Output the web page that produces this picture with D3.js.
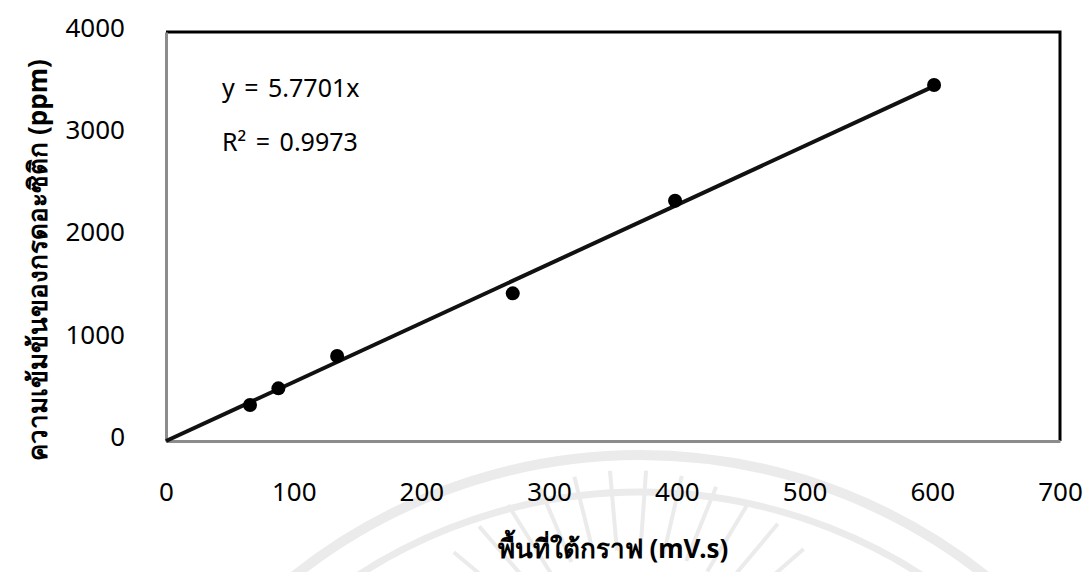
<!DOCTYPE html>
<html>
<head>
<meta charset="utf-8">
<script src="https://cdn.jsdelivr.net/npm/d3@7"></script>
<style>
  body { margin: 0; background: #fff; }
  text { font-family: "Noto Sans", "DejaVu Sans", sans-serif; fill: #000; }
</style>
</head>
<body>
<div id="chart"></div>
<script>
// data
var areas = [65.8, 88, 134, 271.5, 398.6, 601.4];
var concs = [352, 515, 831, 1444, 2350, 3482];
var slope = 5.7701;
var eqLabels = ["y = 5.7701x", "R² = 0.9973"];
var xTicks = [0, 100, 200, 300, 400, 500, 600, 700];
var yTicks = [0, 1000, 2000, 3000, 4000];
var xTitle = "พื้นที่ใต้กราฟ (mV.s)";
var yTitle = "ความเข้มข้นของกรดอะซิติก (ppm)";

var svgWidth = 1087;
var svgHeight = 572;
var margin = { top: 32, right: 27, bottom: 131, left: 166 };
var width = svgWidth - margin.left - margin.right;
var height = svgHeight - margin.top - margin.bottom;

var svg = d3.select("#chart")
  .append("svg")
  .attr("width", svgWidth)
  .attr("height", svgHeight);

// faint watermark (logo arcs and rays)
var wm = svg.append("g").attr("fill", "none").attr("stroke", "#ebebeb");
wm.append("circle").attr("cx", 640).attr("cy", 1010).attr("r", 555).attr("stroke-width", 10);
wm.append("circle").attr("cx", 640).attr("cy", 1010).attr("r", 518).attr("stroke-width", 7);
d3.range(-50, 51, 9).forEach(function(a) {
  var t = (a - 90) * Math.PI / 180;
  wm.append("line")
    .attr("x1", 630 + 150 * Math.cos(t)).attr("y1", 700 + 150 * Math.sin(t))
    .attr("x2", 630 + 230 * Math.cos(t)).attr("y2", 700 + 230 * Math.sin(t))
    .attr("stroke-width", 4);
});

var chartGroup = svg.append("g")
  .attr("transform", `translate(${margin.left}, ${margin.top})`);

var xScale = d3.scaleLinear().domain([0, 700]).range([0, width]);
var yScale = d3.scaleLinear().domain([0, 4000]).range([height, 0]);

// plot frame: top and right black
chartGroup.append("path")
  .attr("d", `M0,0 H${width} V${height}`)
  .attr("fill", "none")
  .attr("stroke", "#000")
  .attr("stroke-width", 3);

// axes (grey lines, no ticks)
var bottomAxis = d3.axisBottom(xScale).tickValues(xTicks).tickSize(0).tickPadding(42).tickFormat(d3.format("d"));
var leftAxis = d3.axisLeft(yScale).tickValues(yTicks).tickSize(0).tickPadding(41).tickFormat(d3.format("d"));

var xAxisG = chartGroup.append("g")
  .attr("transform", `translate(0, ${height})`)
  .call(bottomAxis);
var yAxisG = chartGroup.append("g").call(leftAxis);

[xAxisG, yAxisG].forEach(function(g) {
  g.select(".domain").attr("stroke", "#8c8c8c").attr("stroke-width", 3);
  g.selectAll("text")
    .style("font-size", "26px")
    .style("font-family", "'Noto Sans', 'DejaVu Sans', sans-serif")
    .attr("fill", "#222");
});
yAxisG.selectAll("text").attr("dy", "0.17em");

// trendline
var lineData = [0, d3.max(areas)];
chartGroup.append("line")
  .attr("x1", xScale(lineData[0]))
  .attr("y1", yScale(slope * lineData[0]))
  .attr("x2", xScale(lineData[1]))
  .attr("y2", yScale(slope * lineData[1]))
  .attr("stroke", "#111")
  .attr("stroke-width", 4);

// points
chartGroup.selectAll("circle.pt")
  .data(areas)
  .enter()
  .append("circle")
  .attr("class", "pt")
  .attr("cx", d => xScale(d))
  .attr("cy", (d, i) => yScale(concs[i]))
  .attr("r", 7)
  .attr("fill", "#000");

// equation
chartGroup.selectAll("text.eq")
  .data(eqLabels)
  .enter()
  .append("text")
  .attr("class", "eq")
  .attr("x", 56)
  .attr("y", (d, i) => 65 + i * 54)
  .style("font-size", "25px")
  .style("word-spacing", "3px")
  .attr("fill", "#222")
  .text(d => d);

// axis titles
svg.append("text")
  .attr("transform", `translate(613, 558)`)
  .attr("text-anchor", "middle")
  .style("font-size", "26px")
  .style("font-weight", "bold")
  .attr("fill", "#222")
  .text(xTitle);

svg.append("text")
  .attr("transform", `translate(47, 260) rotate(-90)`)
  .attr("text-anchor", "middle")
  .style("font-size", "26px")
  .style("font-weight", "bold")
  .attr("fill", "#222")
  .text(yTitle);
</script>
</body>
</html>
